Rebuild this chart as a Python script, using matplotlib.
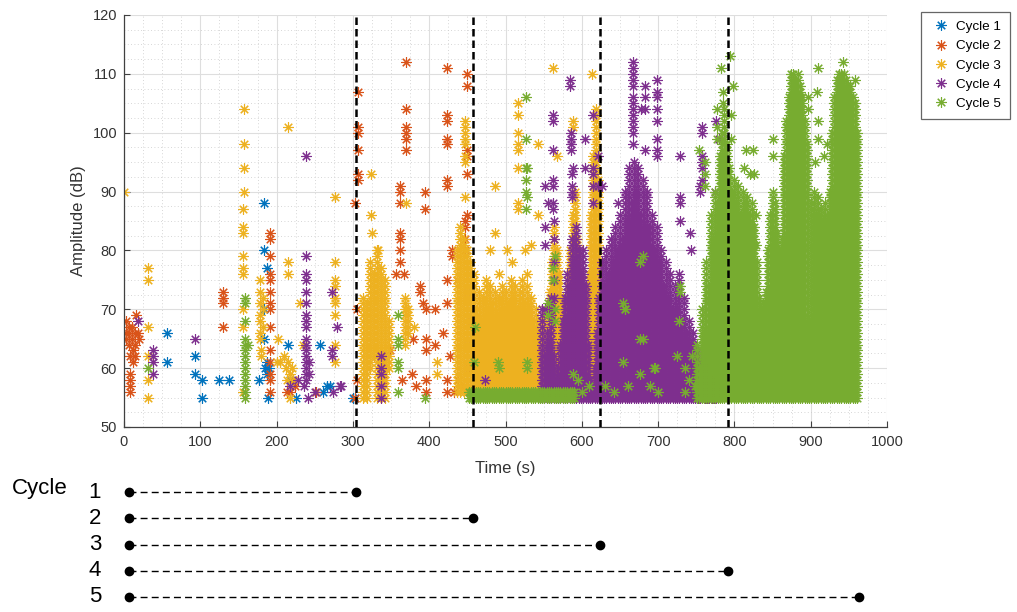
import numpy as np
import matplotlib
matplotlib.use("Agg")
import matplotlib.pyplot as plt
from matplotlib.ticker import MultipleLocator
from matplotlib.lines import Line2D

plt.rcParams['font.family'] = ['Liberation Sans', 'DejaVu Sans']

W, H = 1017, 612

# ------------------------------------------------------------------ data
cycle_labels = ['Cycle 1', 'Cycle 2', 'Cycle 3', 'Cycle 4', 'Cycle 5']
cycle_colors = ['#0072BD', '#D95319', '#EDB120', '#7E2F8E', '#77AC30']
cycle_start = 6
cycle_end = [304, 458, 624, 791, 963]

# Cycle 1 (isolated hits)
c1_x = [56, 56, 93, 93, 102, 102, 124, 137, 177, 183, 183, 187, 183, 183,
        187, 187, 189, 185, 190, 215, 218, 226, 257, 261, 266, 270, 300, 303]
c1_y = [66, 61, 62, 59, 58, 55, 58, 58, 58, 88, 80, 77, 70, 65,
        61, 59, 55, 60, 60, 64, 58, 55, 64, 56, 57, 57, 55, 55]

# Cycle 2 (isolated hits)
c2_x = [2, 2, 2, 6, 6, 6, 10, 10, 12, 14, 14, 16, 18, 20, 8, 12, 14, 8, 8, 8, 8,
        130, 130, 130, 130,
        191, 191, 191, 191, 191, 191, 191, 191, 191, 191, 191, 191, 191, 191,
        218, 224, 252, 222, 214,
        305, 305, 303, 303,
        307, 307, 307, 307, 307, 307,
        370, 370, 370, 370, 370, 370,
        362, 362, 362,
        394, 394,
        423, 423, 423, 423, 423, 423, 423,
        449, 449, 449, 449, 449, 449,
        362, 362, 362, 362, 357, 367,
        388, 388, 392, 396, 408, 423, 423, 430, 430, 437, 447, 447, 447, 447, 449,
        379, 396, 408, 396, 427, 377, 364, 383, 396, 396, 423, 432, 418, 349, 340,
        340, 340, 423, 438,
        450, 452, 445, 455, 453]
c2_y = [68, 66, 65, 67, 66, 64, 65, 67, 63, 66, 64, 69, 66, 65, 62, 61, 62, 59, 58, 57, 56,
        73, 72, 71, 67,
        83, 82, 79, 76, 75, 73, 71, 70, 67, 63, 61, 59, 58, 56,
        56, 57, 56, 58, 56,
        58, 70, 88, 55,
        107, 101, 100, 97, 93, 92,
        112, 104, 101, 100, 99, 97,
        91, 90, 88,
        90, 87,
        111, 103, 102, 99, 98, 92, 91,
        110, 108, 97, 96, 93, 86,
        83, 82, 80, 78, 76, 76,
        74, 73, 71, 70, 70, 75, 71, 80, 79, 75, 85, 84, 82, 80, 73,
        65, 65, 64, 63, 62, 59, 58, 57, 58, 56, 56, 56, 66, 63, 62,
        60, 58, 58, 58,
        64, 60, 57, 68, 76]

# Cycle 3 (isolated hits)
c3_x = [0, 32, 32, 32, 32, 32, 32,
        157, 157, 157, 157, 156, 156, 156, 156, 156, 156, 156, 156, 156,
        178, 178, 178, 178, 178, 178, 178, 182, 182, 182, 180, 180,
        202, 200, 205, 210, 212, 215, 218, 220, 222, 214, 218,
        215, 215, 215, 231, 235,
        277, 277, 277, 277, 277, 277, 277, 277, 277,
        324, 324, 325, 370, 333,
        447, 447, 447, 447, 447, 447, 447, 447,
        486, 486, 516, 516, 516, 516, 516, 516, 517, 517, 543, 543, 562, 568,
        589, 589, 613,
        480, 502, 526, 533, 509, 528, 491,
        370, 380, 410, 410]
c3_y = [90, 77, 75, 67, 62, 58, 55,
        104, 98, 94, 90, 87, 84, 83, 79, 77, 76, 70, 67, 56,
        75, 73, 71, 69, 68, 66, 65, 72, 70, 67, 63, 62,
        65, 61, 61, 62, 60, 61, 59, 60, 58, 58, 55,
        101, 78, 76, 71, 64,
        89, 78, 75, 74, 72, 71, 69, 64, 61,
        93, 86, 83, 88, 80,
        102, 101, 100, 99, 98, 96, 95, 89,
        91, 83, 105, 103, 100, 98, 97, 94, 88, 87, 98, 86, 111, 96,
        102, 101, 110,
        80, 80, 80, 81, 78, 76, 76,
        70, 67, 61, 59]

# Cycle 3 dense hit columns (time, lowest and highest amplitude, 1 dB steps)
c3_col_x = [313, 318, 322, 327, 332, 337, 342, 347, 368, 372, 437, 441, 445, 449, 453,
            459, 462, 465, 468, 471, 474, 477, 480, 483, 486,
            489, 492, 495, 498, 501, 504, 507, 510, 513, 516,
            519, 522, 525, 528, 531, 534, 537, 540, 543, 546,
            549, 552, 555, 558, 561, 564, 567, 570, 573, 576,
            579, 582, 585, 588, 591, 594, 597, 600, 603, 606,
            609, 612, 615, 618, 621]
c3_col_lo = [55, 55, 60, 62, 55, 55, 55, 60, 64, 66, 56, 56, 56, 56, 56] + [56] * 55
c3_col_hi = [72, 71, 78, 76, 80, 77, 75, 68, 72, 70, 80, 84, 82, 80, 78,
             76, 70, 73, 68, 72, 75, 70, 74, 71, 73,
             69, 72, 74, 70, 73, 71, 75, 72, 74, 70,
             73, 75, 71, 74, 70, 72, 68, 70, 66, 68,
             65, 70, 67, 73, 78, 84, 80, 76, 70, 72,
             68, 74, 80, 86, 90, 82, 74, 70, 66, 70,
             76, 86, 96, 104, 92]

# Cycle 4 (isolated hits)
c4_x = [19, 38, 38, 38, 38, 93,
        239, 239, 239, 239, 239, 239, 239, 239, 239, 239, 239, 239, 239, 239, 239, 239,
        243, 243, 236, 241, 239,
        218, 228, 250, 272, 272, 272, 279, 274, 283, 285,
        337, 337, 337, 337, 337, 473,
        584, 584, 562, 562, 562, 586, 586, 586, 586, 604, 615, 621, 589, 604, 615,
        552, 562, 562, 587, 587, 587, 587, 615, 615, 621, 562, 562, 615, 648,
        552, 552, 556, 563, 563, 563, 563, 563, 552,
        650, 650, 667,
        667, 667, 667, 667, 667, 667, 667, 667, 667, 667, 667, 667, 667,
        683, 683, 683, 683, 698, 698, 698, 698, 698, 698, 698, 698, 678,
        729, 757, 757, 757, 757, 757, 755, 755, 729, 729, 729, 742, 743, 775,
        776, 780, 626, 757]
c4_y = [68, 63, 62, 61, 59, 65,
        79, 76, 75, 73, 71, 69, 68, 67, 65, 64, 63, 62, 61, 60, 59, 58,
        61, 59, 57, 55, 96,
        57, 58, 56, 73, 63, 62, 67, 56, 57, 57,
        62, 60, 59, 57, 55, 58,
        109, 108, 103, 102, 97, 100, 99, 98, 97, 99, 103, 96, 94, 94, 94,
        91, 92, 91, 93, 91, 90, 89, 93, 91, 91, 88, 87, 88, 88,
        84, 81, 88, 85, 82, 78, 75, 72, 70,
        81, 79, 81,
        112, 111, 110, 109, 108, 106, 105, 104, 103, 102, 101, 100, 98,
        108, 106, 104, 97, 109, 107, 106, 104, 102, 99, 97, 96, 104,
        96, 101, 100, 96, 95, 94, 91, 90, 89, 88, 85, 83, 80, 90,
        102, 99, 91, 92]

# Cycle 4 dense hit columns
c4_col_x = [548, 551, 554, 557, 560, 563, 566, 569, 572, 575,
            578, 581, 584, 587, 590, 593, 596, 599, 602, 605,
            608, 611, 614, 617, 620, 623, 626, 629, 632, 635,
            638, 641, 644, 647, 650, 653, 656, 659, 662, 665,
            668, 671, 674, 677, 680, 683, 686, 689, 692, 695,
            698, 701, 704, 707, 710, 713, 716, 719, 722, 725,
            728, 731, 734, 737, 740, 743, 746, 749, 752, 755,
            758, 761, 764, 767, 770, 773, 776]
c4_col_hi = [70, 62, 66, 64, 72, 62, 58, 60, 64, 68,
             72, 76, 74, 82, 78, 84, 80, 76, 80, 74,
             64, 58, 57, 60, 66, 72, 78, 74, 80, 76,
             82, 78, 84, 80, 86, 82, 90, 85, 94, 88,
             95, 90, 94, 86, 92, 84, 90, 84, 86, 80,
             84, 78, 80, 74, 78, 72, 76, 70, 74, 70,
             76, 68, 72, 66, 68, 64, 66, 62, 63, 60,
             61, 58, 60, 57, 58, 56, 57]
c4_col_lo = [55] * 77

# Cycle 5 (isolated hits)
c5_x = [32, 163,
        159, 159, 159, 159, 159, 159, 159, 159, 159, 159, 159, 159, 159, 159,
        359, 359, 359, 359, 359, 359, 394, 460, 459,
        527, 527, 527, 527, 527, 527, 528, 528, 565, 565, 565, 528, 490, 589, 556,
        556, 562, 562, 528, 491, 654,
        794, 783, 798, 785, 785, 777, 777, 777, 795, 795, 815, 825, 851, 851, 869,
        754, 812, 820, 826, 815, 828, 828, 762, 762, 762, 657, 680, 729, 680, 694,
        910, 908, 942, 958, 958, 897, 897, 910, 910, 918, 922, 905,
        676, 656, 676, 696, 676, 654, 729, 728, 631, 642, 725, 735, 740, 745, 735,
        748, 700, 690, 660, 610, 600, 595]
c5_y = [60, 64,
        72, 71, 68, 65, 64, 63, 62, 61, 60, 59, 58, 57, 56, 55,
        69, 65, 64, 61, 60, 56, 55, 67, 61,
        106, 99, 94, 92, 90, 87, 94, 89, 79, 70, 68, 61, 61, 59, 71,
        69, 77, 75, 60, 60, 71,
        113, 111, 108, 107, 105, 104, 101, 99, 103, 99, 97, 97, 99, 96, 101,
        97, 94, 93, 93, 88, 86, 81, 95, 93, 91, 70, 79, 74, 65, 60,
        111, 107, 112, 109, 105, 106, 104, 102, 99, 96, 98, 95,
        78, 70, 65, 60, 59, 61, 73, 68, 57, 56, 62, 60, 58, 62, 56,
        57, 56, 57, 57, 57, 56, 58]

# Cycle 5 dense hit columns (threshold band + final burst)
c5_col_x = [452, 455, 458, 461, 464, 467, 470, 473, 476, 479, 482, 485, 488, 491,
            494, 497, 500, 503, 506, 509, 512, 515, 518, 521, 524, 527, 530, 533,
            536, 539, 542, 545, 548, 551, 554, 557, 560, 563, 566, 569, 572, 575,
            578, 581, 584, 587, 590,
            751, 754, 757, 760, 763, 766, 769, 772, 775, 778, 781, 784, 787, 790,
            793, 796, 799, 802, 805, 808, 811, 814, 817, 820, 823, 826,
            829, 832, 835, 838, 841, 844, 847, 850, 853, 856, 859, 862,
            865, 868, 871, 874, 877, 880, 883, 886, 889, 892, 895, 898,
            901, 904, 907, 910, 913, 916, 919, 922, 925, 928, 931, 934,
            937, 940, 943, 946, 949, 952, 955, 958, 961]
c5_col_lo = [55] * 118
c5_col_hi = [56] * 47 + [
             64, 60, 70, 66, 78, 74, 86, 82, 90, 88, 96, 100, 104, 98,
             94, 90, 92, 88, 91, 86, 90, 87, 89, 86, 88, 84,
             78, 72, 70, 71, 73, 80, 86, 90, 88, 83, 80, 82,
             96, 102, 106, 110, 110, 109, 110, 108, 106, 102, 98, 68,
             88, 90, 86, 89, 87, 85, 88, 86, 90, 100, 106, 109,
             110, 110, 110, 109, 108, 108, 106, 104, 100]

sparse_x = [c1_x, c2_x, c3_x, c4_x, c5_x]
sparse_y = [c1_y, c2_y, c3_y, c4_y, c5_y]
dense_cols = [None, None, (c3_col_x, c3_col_lo, c3_col_hi),
              (c4_col_x, c4_col_lo, c4_col_hi), (c5_col_x, c5_col_lo, c5_col_hi)]


def expand_columns(cols):
    xs, ys = [], []
    if cols is None:
        return xs, ys
    for x, lo, hi in zip(*cols):
        for a in range(lo, hi + 1):
            xs.append(x)
            ys.append(a)
    return xs, ys


# ------------------------------------------------------------------ figure
fig = plt.figure(figsize=(W / 100, H / 100), dpi=100)
ax = fig.add_axes([124 / W, 1 - 427 / H, (887 - 124) / W, (427 - 15) / H])

star = (8, 2, 0)
for i in range(5):
    dx, dy = expand_columns(dense_cols[i])
    xs = list(sparse_x[i]) + dx
    ys = list(sparse_y[i]) + dy
    ax.plot(xs, ys, ls='none', marker=star, ms=7.5, mew=0.8,
            color=cycle_colors[i], zorder=2 + i * 0.01)

for e in cycle_end[:4]:
    ax.axvline(e, color='k', lw=1.8, ls=(0, (3, 1.6)), zorder=5)

ax.set_xlim(0, 1000)
ax.set_ylim(50, 120)
ax.set_xticks(range(0, 1001, 100))
ax.set_yticks(range(50, 121, 10))
ax.xaxis.set_minor_locator(MultipleLocator(25))
ax.yaxis.set_minor_locator(MultipleLocator(2.5))
ax.grid(True, which='major', color='#dedede', lw=0.8, zorder=0)
ax.grid(True, which='minor', color='#c9c9c9', lw=0.6, ls=(0, (1, 3)), zorder=0)
ax.set_axisbelow(True)
for s in ['top', 'right']:
    ax.spines[s].set_visible(False)
for s in ['left', 'bottom']:
    ax.spines[s].set_color('#404040')
    ax.spines[s].set_linewidth(0.9)
ax.tick_params(which='major', direction='in', length=4, width=0.8,
               color='#404040', labelcolor='#333333', labelsize=10.5)
ax.tick_params(axis='x', pad=6)
ax.tick_params(axis='y', pad=5)
ax.tick_params(which='minor', length=0)

fig.text(505 / W, 1 - 468 / H, 'Time (s)', ha='center', va='center',
         fontsize=12, color='#333333')
fig.text(78 / W, 1 - 221 / H, 'Amplitude (dB)', ha='center', va='center',
         rotation=90, fontsize=12, color='#333333')

handles = [Line2D([], [], ls='none', marker=star, ms=7.5, mew=0.8, color=c)
           for c in cycle_colors]
leg = fig.legend(handles, cycle_labels, loc='upper left',
                 bbox_to_anchor=(921 / W, 1 - 12 / H), fontsize=9.7,
                 frameon=True, fancybox=False, edgecolor='#404040',
                 handlelength=1.6, handletextpad=0.35, labelspacing=0.5,
                 borderpad=0.65, borderaxespad=0)
leg.get_frame().set_linewidth(0.9)

# ------------------------------------------------------------------ cycle timeline
row_px = 26.25
ax2 = fig.add_axes([124 / W, 1 - (597 + 0.4 * row_px) / H, (887 - 124) / W,
                    (597 - 492 + 0.8 * row_px) / H])
ax2.set_xlim(0, 1000)
ax2.set_ylim(5.4, 0.6)
ax2.axis('off')
for i, e in enumerate(cycle_end):
    ax2.plot([cycle_start, e], [i + 1, i + 1], color='k', lw=1.0,
             ls=(0, (5, 3)), clip_on=False)
    ax2.plot([cycle_start, e], [i + 1, i + 1], ls='none', marker='o', ms=6,
             color='k', clip_on=False)
    ax2.text((95 - 124) / 0.763, i + 1, str(i + 1), ha='center', va='center',
             fontsize=16, color='k')
ax2.text((40 - 124) / 0.763, 0.85, 'Cycle', ha='center', va='center',
         fontsize=16, color='k', clip_on=False)

fig.savefig('out.png', dpi=100)
